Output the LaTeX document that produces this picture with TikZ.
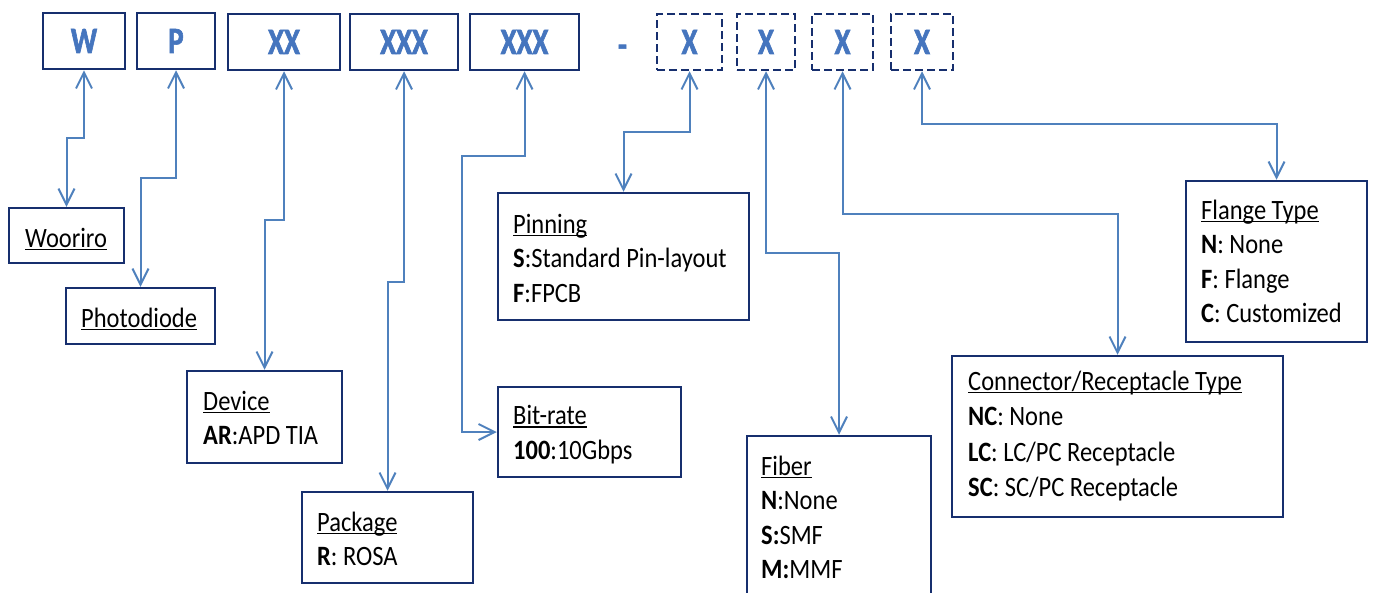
\documentclass[tikz,border=0pt]{standalone}
\usepackage{fontspec}
\setmainfont{Carlito}[FakeStretch=0.875]
\newfontfamily\topfont{Carlito}[FakeStretch=0.78, BoldFeatures={FakeBold=1.6}]
\usetikzlibrary{arrows.meta}
\definecolor{navy}{HTML}{172F6E}
\definecolor{lineblue}{HTML}{4F81BD}
\definecolor{letterblue}{HTML}{4575BE}
\newcommand\ulx[1]{\setbox0\hbox{#1}\rlap{\rule[-3.2pt]{\wd0}{1.3pt}}\box0}
\begin{document}
\begin{tikzpicture}[x=1pt,y=-1pt,
  codebox/.style={draw=navy, line width=2.5pt, minimum height=56pt, inner sep=0pt,
    font=\topfont\bfseries\fontsize{37}{37}\selectfont, text=letterblue},
  optbox/.style={codebox, dash pattern=on 8pt off 4pt},
  infobox/.style={draw=navy, line width=2.5pt, inner sep=0pt},
  info/.style={anchor=base west, inner sep=0pt, align=left, text=black,
    font=\fontsize{28}{34.5}\selectfont},
  conn/.style={draw=lineblue, line width=2pt, line join=miter,
    >={Straight Barb[length=16pt,width=16pt]}, <->}
]
\fill[white] (0,0) rectangle (1373,592);
\useasboundingbox (0,0) rectangle (1373,592);

% code boxes
\node[codebox, minimum width=82pt]  (W)    at (84,41)    {W};
\node[codebox, minimum width=78pt]  (P)    at (176,41)   {P};
\node[codebox, minimum width=112pt] (XX)   at (284,42)   {XX};
\node[codebox, minimum width=108pt] (XXXa) at (404,42)   {XXX};
\node[codebox, minimum width=109pt] (XXXb) at (524.5,42) {XXX};
\node[inner sep=0pt, text=letterblue, font=\topfont\bfseries\fontsize{37}{37}\selectfont] (dash) at (622.5,51) {-};
\node[optbox, minimum width=65pt] (D1) at (689.5,42) {X};
\node[optbox, minimum width=58pt] (D2) at (766,42)   {X};
\node[optbox, minimum width=61pt] (D3) at (842.5,42) {X};
\node[optbox, minimum width=62pt] (D4) at (922,42)   {X};

% info boxes (text nodes anchored at the baseline of their last line)
\node[infobox, minimum width=115pt, minimum height=55pt]  (woo) at (66.5,235.5) {};
\node[info] (wooT) at (25,247) {\ulx{Wooriro}};
\node[infobox, minimum width=149pt, minimum height=56pt]  (pho) at (140.5,316) {};
\node[info] (phoT) at (81,327) {\ulx{Photodiode}};
\node[infobox, minimum width=155pt, minimum height=92pt]  (dev) at (264.5,417) {};
\node[info] (devT) at (203,444.5) {\ulx{Device}\\\textbf{AR}:APD TIA};
\node[infobox, minimum width=171pt, minimum height=91pt]  (pkg) at (387.5,537.5) {};
\node[info] (pkgT) at (317,565.5) {\ulx{Package}\\\textbf{R}: ROSA};
\node[infobox, minimum width=183pt, minimum height=90pt]  (bit) at (589.5,432) {};
\node[info] (bitT) at (513,459) {\ulx{Bit-rate}\\\textbf{100}:10Gbps};
\node[infobox, minimum width=251pt, minimum height=127pt] (pin) at (623.5,256.5) {};
\node[info] (pinT) at (513,302) {\ulx{Pinning}\\\textbf{S}:Standard Pin-layout\\\textbf{F}:FPCB};
\node[infobox, minimum width=184pt, minimum height=200pt] (fib) at (839,536) {};
\node[info] (fibT) at (761,578.5) {\ulx{Fiber}\\\textbf{N}:None\\\textbf{S:}SMF\\\textbf{M:}MMF};
\node[infobox, minimum width=331pt, minimum height=161pt] (con) at (1117.5,436.5) {};
\node[info, font=\fontsize{28}{35.5}\selectfont] (conT) at (968,496.5) {\ulx{Connector/Receptacle Type}\\\textbf{NC}: None\\\textbf{LC}: LC/PC Receptacle\\\textbf{SC}: SC/PC Receptacle};
\node[infobox, minimum width=181pt, minimum height=161pt] (fla) at (1276.5,261.5) {};
\node[info] (flaT) at (1201,322.5) {\ulx{Flange Type}\\\textbf{N}: None\\\textbf{F}: Flange\\\textbf{C}: Customized};

% connectors
\draw[conn] (W.south) -- (W.south |- 0,138) -| (woo.north);
\draw[conn] (P.south) -- (P.south |- 0,178) -| (pho.north);
\draw[conn] (XX.south) -- (XX.south |- 0,220) -| (dev.north);
\draw[conn] (XXXa.south) -- (XXXa.south |- 0,282) -| (pkg.north);
\coordinate (jb) at (462,156);
\draw[conn] (XXXb.south) |- (jb) |- (bit.west);
\draw[conn] (D1.south) -- (D1.south |- 0,132) -| (pin.north);
\draw[conn] (D2.south) -- (D2.south |- 0,253) -| (fib.north);
\draw[conn] (D3.south) -- (D3.south |- 0,214) -| (con.north);
\draw[conn] (D4.south) -- (D4.south |- 0,124) -| (fla.north);
\end{tikzpicture}
\end{document}
